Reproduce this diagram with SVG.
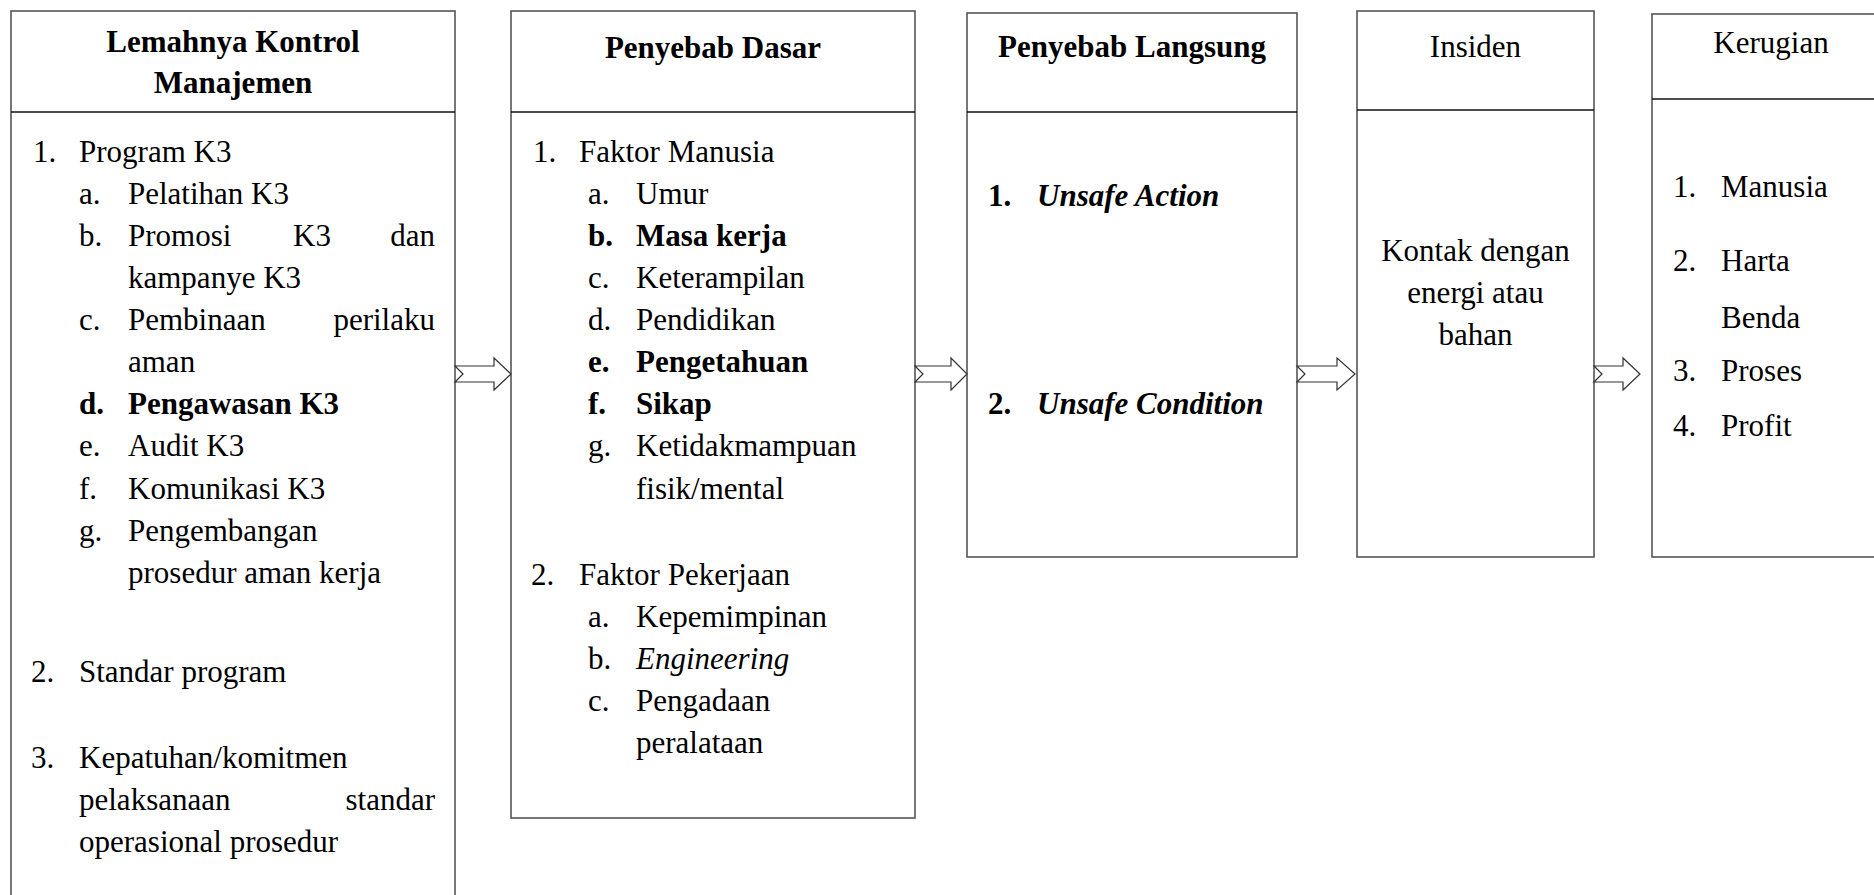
<svg xmlns="http://www.w3.org/2000/svg" width="1874" height="895" viewBox="0 0 1874 895">
<style>
.box{fill:#fff;stroke:#555;stroke-width:1.6}
.hl{stroke:#111;stroke-width:1.3}
text{font-family:"Liberation Serif","Times New Roman",serif;font-size:31px;fill:#000}
.b{font-weight:bold}
.i{font-style:italic}
.c{text-anchor:middle}
.e{text-anchor:end}
.arr{fill:#fff;stroke:#333;stroke-width:1.2;stroke-linejoin:miter}
</style>
<rect width="1874" height="895" fill="#fff"/>

<g id="node-kontrol">
<rect class="box" x="11" y="11" width="444" height="900"/>
<line class="hl" x1="11" y1="112" x2="455" y2="112"/>
<text class="b c" x="233" y="52">Lemahnya Kontrol</text>
<text class="b c" x="233" y="93">Manajemen</text>
<text x="33" y="162">1.</text><text x="79" y="162">Program K3</text>
<text x="79" y="204">a.</text><text x="128" y="204">Pelatihan K3</text>
<text x="79" y="246">b.</text><text x="128" y="246">Promosi</text><text x="293" y="246">K3</text><text class="e" x="435" y="246">dan</text>
<text x="128" y="288">kampanye K3</text>
<text x="79" y="330">c.</text><text x="128" y="330">Pembinaan</text><text class="e" x="435" y="330">perilaku</text>
<text x="128" y="372">aman</text>
<text class="b" x="79" y="414">d.</text><text class="b" x="128" y="414">Pengawasan K3</text>
<text x="79" y="456">e.</text><text x="128" y="456">Audit K3</text>
<text x="79" y="499">f.</text><text x="128" y="499">Komunikasi K3</text>
<text x="79" y="541">g.</text><text x="128" y="541">Pengembangan</text>
<text x="128" y="583">prosedur aman kerja</text>
<text x="31" y="682">2.</text><text x="79" y="682">Standar program</text>
<text x="31" y="768">3.</text><text x="79" y="768">Kepatuhan/komitmen</text>
<text x="79" y="810">pelaksanaan</text><text class="e" x="435" y="810">standar</text>
<text x="79" y="852">operasional prosedur</text>
</g>

<g id="node-dasar">
<rect class="box" x="511" y="11" width="404" height="807"/>
<line class="hl" x1="511" y1="112" x2="915" y2="112"/>
<text class="b c" x="713" y="58">Penyebab Dasar</text>
<text x="533" y="162">1.</text><text x="579" y="162">Faktor Manusia</text>
<text x="588" y="204">a.</text><text x="636" y="204">Umur</text>
<text class="b" x="588" y="246">b.</text><text class="b" x="636" y="246">Masa kerja</text>
<text x="588" y="288">c.</text><text x="636" y="288">Keterampilan</text>
<text x="588" y="330">d.</text><text x="636" y="330">Pendidikan</text>
<text class="b" x="588" y="372">e.</text><text class="b" x="636" y="372">Pengetahuan</text>
<text class="b" x="588" y="414">f.</text><text class="b" x="636" y="414">Sikap</text>
<text x="588" y="456">g.</text><text x="636" y="456">Ketidakmampuan</text>
<text x="636" y="499">fisik/mental</text>
<text x="531" y="585">2.</text><text x="579" y="585">Faktor Pekerjaan</text>
<text x="588" y="627">a.</text><text x="636" y="627">Kepemimpinan</text>
<text x="588" y="669">b.</text><text class="i" x="636" y="669">Engineering</text>
<text x="588" y="711">c.</text><text x="636" y="711">Pengadaan</text>
<text x="636" y="753">peralataan</text>
</g>

<g id="node-langsung">
<rect class="box" x="967" y="13" width="330" height="544"/>
<line class="hl" x1="967" y1="112" x2="1297" y2="112"/>
<text class="b c" x="1132" y="57">Penyebab Langsung</text>
<text class="b" x="988" y="206">1.</text><text class="b i" x="1037" y="206">Unsafe Action</text>
<text class="b" x="988" y="414">2.</text><text class="b i" x="1037" y="414">Unsafe Condition</text>
</g>

<g id="node-insiden">
<rect class="box" x="1357" y="11" width="237" height="546"/>
<line class="hl" x1="1357" y1="110" x2="1594" y2="110"/>
<text class="c" x="1475.5" y="57">Insiden</text>
<text class="c" x="1475.5" y="261">Kontak dengan</text>
<text class="c" x="1475.5" y="303">energi atau</text>
<text class="c" x="1475.5" y="345">bahan</text>
</g>

<g id="node-kerugian">
<rect class="box" x="1652" y="14" width="240" height="543"/>
<line class="hl" x1="1652" y1="99" x2="1892" y2="99"/>
<text class="c" x="1771" y="53">Kerugian</text>
<text x="1673" y="197">1.</text><text x="1721" y="197">Manusia</text>
<text x="1673" y="271">2.</text><text x="1721" y="271">Harta</text>
<text x="1721" y="328">Benda</text>
<text x="1673" y="381">3.</text><text x="1721" y="381">Proses</text>
<text x="1673" y="436">4.</text><text x="1721" y="436">Profit</text>
</g>

<g id="connectors">
<path class="arr" d="M455,366 L494,366 L494,358 L511,374 L494,390 L494,382 L455,382 L463,374 Z"/>
<path class="arr" d="M915,366 L951,366 L951,358 L967,374 L951,390 L951,382 L915,382 L923,374 Z"/>
<path class="arr" d="M1297,366 L1337,366 L1337,358 L1355,374 L1337,390 L1337,382 L1297,382 L1305,374 Z"/>
<path class="arr" d="M1594,366 L1623,366 L1623,358 L1640,374 L1623,390 L1623,382 L1594,382 L1602,374 Z"/>
</g>
</svg>
